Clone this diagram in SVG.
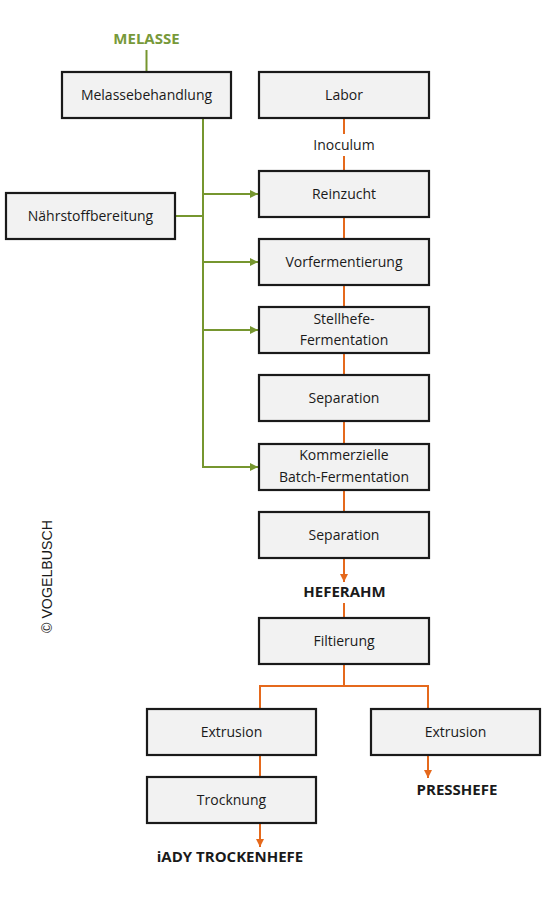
<svg xmlns="http://www.w3.org/2000/svg" width="546" height="900" viewBox="0 0 546 900">
<style>
.box{fill:#f2f2f2;stroke:#1a1a1a;stroke-width:2.2}
.t{font-family:"Open Sans","Noto Sans",sans-serif;font-size:14px;fill:#1a1a1a;text-anchor:middle}
.b{font-family:"Open Sans","Noto Sans",sans-serif;font-size:15px;font-weight:bold;fill:#1a1a1a;text-anchor:middle}
.g{fill:none;stroke:#76962f;stroke-width:2}
.o{fill:none;stroke:#e5691c;stroke-width:2}
</style>
<defs>
<marker id="ag" markerWidth="10" markerHeight="10" refX="8" refY="4" orient="auto" markerUnits="userSpaceOnUse"><path d="M0,0 L8,4 L0,8 Z" fill="#76962f"/></marker>
<marker id="ao" markerWidth="10" markerHeight="10" refX="8" refY="4" orient="auto" markerUnits="userSpaceOnUse"><path d="M0,0 L8,4 L0,8 Z" fill="#e5691c"/></marker>
</defs>
<rect width="546" height="900" fill="#ffffff"/>
<g id="connectors">
<line class="g" x1="146.5" y1="50" x2="146.5" y2="72"/>
<line class="g" x1="203" y1="118" x2="203" y2="467"/>
<line class="g" x1="175" y1="216" x2="203" y2="216"/>
<line class="g" x1="203" y1="194" x2="258" y2="194" marker-end="url(#ag)"/>
<line class="g" x1="203" y1="262" x2="258" y2="262" marker-end="url(#ag)"/>
<line class="g" x1="203" y1="330" x2="258" y2="330" marker-end="url(#ag)"/>
<line class="g" x1="202" y1="467" x2="258" y2="467" marker-end="url(#ag)"/>
<line class="o" x1="344" y1="118" x2="344" y2="134"/>
<line class="o" x1="344" y1="156" x2="344" y2="171"/>
<line class="o" x1="344" y1="217" x2="344" y2="239"/>
<line class="o" x1="344" y1="285" x2="344" y2="307"/>
<line class="o" x1="344" y1="353" x2="344" y2="375"/>
<line class="o" x1="344" y1="421" x2="344" y2="444"/>
<line class="o" x1="344" y1="490" x2="344" y2="512"/>
<line class="o" x1="344" y1="558" x2="344" y2="582" marker-end="url(#ao)"/>
<line class="o" x1="344" y1="603" x2="344" y2="618"/>
<polyline class="o" points="344,664 344,686 260,686 260,709"/>
<polyline class="o" points="344,686 428,686 428,709"/>
<line class="o" x1="260" y1="755" x2="260" y2="777"/>
<line class="o" x1="428" y1="755" x2="428" y2="778" marker-end="url(#ao)"/>
<line class="o" x1="260" y1="823" x2="260" y2="847" marker-end="url(#ao)"/>
</g>
<text x="146.5" y="43.5" class="b" style="fill:#77993a">MELASSE</text>
<g id="melassebehandlung"><rect class="box" x="62" y="72" width="169" height="46"/><text class="t" x="146.5" y="100">Melassebehandlung</text></g>
<g id="labor"><rect class="box" x="259" y="72" width="170" height="46"/><text class="t" x="344" y="100">Labor</text></g>
<text class="t" x="344" y="150">Inoculum</text>
<g id="naehrstoff"><rect class="box" x="6" y="193" width="169" height="46"/><text class="t" x="90.5" y="221">Nährstoffbereitung</text></g>
<g id="reinzucht"><rect class="box" x="259" y="171" width="170" height="46"/><text class="t" x="344" y="199">Reinzucht</text></g>
<g id="vorfermentierung"><rect class="box" x="259" y="239" width="170" height="46"/><text class="t" x="344" y="267">Vorfermentierung</text></g>
<g id="stellhefe"><rect class="box" x="259" y="307" width="170" height="46"/><text class="t" x="344" y="324">Stellhefe-</text><text class="t" x="344" y="345">Fermentation</text></g>
<g id="separation1"><rect class="box" x="259" y="375" width="170" height="46"/><text class="t" x="344" y="403">Separation</text></g>
<g id="kommerzielle"><rect class="box" x="259" y="444" width="170" height="46"/><text class="t" x="344" y="460">Kommerzielle</text><text class="t" x="344" y="481.5">Batch-Fermentation</text></g>
<g id="separation2"><rect class="box" x="259" y="512" width="170" height="46"/><text class="t" x="344" y="540">Separation</text></g>
<text class="b" x="344.5" y="597">HEFERAHM</text>
<g id="filtierung"><rect class="box" x="259" y="618" width="170" height="46"/><text class="t" x="344" y="646">Filtierung</text></g>
<g id="extrusion1"><rect class="box" x="147" y="709" width="169" height="46"/><text class="t" x="231.5" y="737">Extrusion</text></g>
<g id="extrusion2"><rect class="box" x="371" y="709" width="169" height="46"/><text class="t" x="455.5" y="737">Extrusion</text></g>
<g id="trocknung"><rect class="box" x="147" y="777" width="169" height="46"/><text class="t" x="231.5" y="805">Trocknung</text></g>
<text class="b" x="457" y="794.5">PRESSHEFE</text>
<text class="b" x="230" y="862">iADY TROCKENHEFE</text>
<text x="0" y="0" transform="translate(51.5,576.5) rotate(-90)" textLength="113" lengthAdjust="spacingAndGlyphs" style="font-family:'Liberation Sans',Arial,sans-serif;font-size:14px;fill:#1a1a1a;text-anchor:middle">© VOGELBUSCH</text>
</svg>
